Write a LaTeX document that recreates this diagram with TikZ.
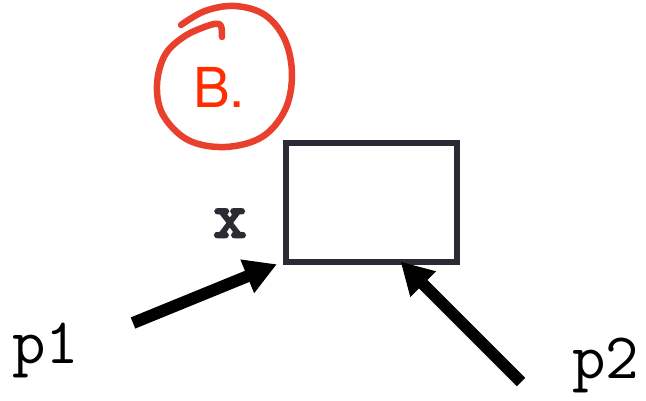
\documentclass[tikz,border=0pt]{standalone}
\usepackage{fontspec}
\setmainfont{TeX Gyre Heros}
\newfontfamily\boldmono[FakeBold=4]{Latin Modern Mono}
\usetikzlibrary{arrows.meta}
\definecolor{boxcol}{HTML}{2B2A35}
\definecolor{circcol}{HTML}{E8402D}
\definecolor{bcol}{HTML}{FF2D00}
\tikzset{
  codelbl/.style={inner sep=0pt, font=\ttfamily\fontsize{65}{68}\selectfont},
  bigarrow/.style={line width=12pt, -{Triangle[length=32pt,width=34pt]}, shorten >=-2pt},
}
\begin{document}
\begin{tikzpicture}[x=1pt,y=-1pt]
\useasboundingbox[fill=white] (0,0) rectangle (646,401);
% box
\node[draw=boxcol, line width=6pt, minimum width=171pt, minimum height=119pt, inner sep=0pt, anchor=north west] (box) at (283,140) {};
% labels
\node[inner sep=0pt, anchor=base, text=boxcol, font=\boldmono\fontsize{64}{66}\selectfont] (xl) at (230,237) {x};
\node[codelbl, anchor=base west] (p1) at (12,363) {p1};
\node[codelbl, anchor=base west] (p2) at (572,378) {p2};
% arrows
\coordinate (a1s) at (133,323);
\coordinate (a1e) at (275,265);
\coordinate (a2s) at (521,382);
\coordinate (a2e) at (402,263);
\draw[bigarrow] (a1s) -- (a1e);
\draw[bigarrow] (a2s) -- (a2e);
% red circle
\draw[circcol, line width=6.5pt, line cap=round, line join=round]
  plot[smooth, tension=0.6] coordinates {(181,25) (205,11) (235,6) (265,15) (285,40) (292,75) (285,110) (262,137) (225,147) (188,140) (163,115) (157,85) (165,55) (185,36) (210,25) (219,24)}
  .. controls (222,25) and (222,30) .. (222,37);
\node[inner sep=0pt, anchor=base west, text=bcol, font=\fontsize{55}{60}\selectfont] (B) at (193,108) {B.};
\end{tikzpicture}
\end{document}
